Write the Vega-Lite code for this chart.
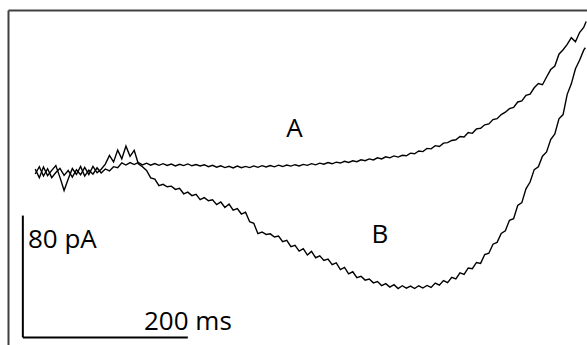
{
  "$schema": "https://vega.github.io/schema/vega-lite/v6.json",
  "width": 579,
  "height": 335,
  "autosize": {"type": "none"},
  "padding": {"left": 8, "top": 10, "right": 0, "bottom": 0},
  "background": "white",
  "config": {"view": {"stroke": null}, "axis": {"grid": false}},
  "datasets": {
    "traces": [
      {"s":"A","t":15,"i":110.5},{"s":"A","t":20,"i":104.8},{"s":"A","t":25,"i":111.9},{"s":"A","t":30,"i":106.2},{"s":"A","t":35,"i":109.7},{"s":"A","t":40,"i":112.8},{"s":"A","t":45,"i":105.1},{"s":"A","t":50,"i":96.5},{"s":"A","t":55,"i":104.0},{"s":"A","t":60,"i":110.9},{"s":"A","t":65,"i":107.0},{"s":"A","t":70,"i":112.3},{"s":"A","t":75,"i":105.9},{"s":"A","t":80,"i":109.8},{"s":"A","t":85,"i":107.2},{"s":"A","t":90,"i":111.4},{"s":"A","t":95,"i":108.0},{"s":"A","t":100,"i":110.6},{"s":"A","t":105,"i":109.3},{"s":"A","t":110,"i":112.1},{"s":"A","t":115,"i":111.5},{"s":"A","t":120,"i":114.6},{"s":"A","t":125,"i":113.2},{"s":"A","t":130,"i":114.8},{"s":"A","t":135,"i":113.5},{"s":"A","t":140,"i":114.9},{"s":"A","t":145,"i":113.3},{"s":"A","t":150,"i":114.4},{"s":"A","t":155,"i":113.1},{"s":"A","t":160,"i":114.2},{"s":"A","t":165,"i":113.0},{"s":"A","t":170,"i":114.1},{"s":"A","t":175,"i":112.9},{"s":"A","t":180,"i":113.8},{"s":"A","t":185,"i":112.6},{"s":"A","t":190,"i":113.7},{"s":"A","t":195,"i":112.8},{"s":"A","t":200,"i":113.9},{"s":"A","t":205,"i":112.7},{"s":"A","t":210,"i":113.5},{"s":"A","t":215,"i":112.6},{"s":"A","t":220,"i":113.4},{"s":"A","t":225,"i":112.1},{"s":"A","t":230,"i":113.0},{"s":"A","t":235,"i":111.8},{"s":"A","t":240,"i":112.7},{"s":"A","t":245,"i":111.5},{"s":"A","t":250,"i":112.4},{"s":"A","t":255,"i":111.3},{"s":"A","t":260,"i":112.5},{"s":"A","t":265,"i":111.4},{"s":"A","t":270,"i":112.3},{"s":"A","t":275,"i":111.5},{"s":"A","t":280,"i":112.6},{"s":"A","t":285,"i":111.7},{"s":"A","t":290,"i":112.8},{"s":"A","t":295,"i":111.9},{"s":"A","t":300,"i":112.9},{"s":"A","t":305,"i":112.0},{"s":"A","t":310,"i":113.1},{"s":"A","t":315,"i":112.2},{"s":"A","t":320,"i":113.2},{"s":"A","t":325,"i":112.5},{"s":"A","t":330,"i":113.4},{"s":"A","t":335,"i":112.6},{"s":"A","t":340,"i":113.6},{"s":"A","t":345,"i":113.0},{"s":"A","t":350,"i":114.1},{"s":"A","t":355,"i":113.3},{"s":"A","t":360,"i":114.4},{"s":"A","t":365,"i":113.7},{"s":"A","t":370,"i":114.8},{"s":"A","t":375,"i":114.0},{"s":"A","t":380,"i":115.1},{"s":"A","t":385,"i":114.5},{"s":"A","t":390,"i":115.6},{"s":"A","t":395,"i":114.9},{"s":"A","t":400,"i":116.0},{"s":"A","t":405,"i":115.4},{"s":"A","t":410,"i":116.6},{"s":"A","t":415,"i":116.0},{"s":"A","t":420,"i":117.2},{"s":"A","t":425,"i":116.5},{"s":"A","t":430,"i":117.9},{"s":"A","t":435,"i":117.2},{"s":"A","t":440,"i":118.6},{"s":"A","t":445,"i":117.9},{"s":"A","t":450,"i":119.2},{"s":"A","t":455,"i":118.4},{"s":"A","t":460,"i":119.6},{"s":"A","t":465,"i":119.3},{"s":"A","t":470,"i":121.0},{"s":"A","t":475,"i":120.6},{"s":"A","t":480,"i":122.4},{"s":"A","t":485,"i":122.0},{"s":"A","t":490,"i":124.1},{"s":"A","t":495,"i":123.8},{"s":"A","t":500,"i":125.9},{"s":"A","t":505,"i":125.4},{"s":"A","t":510,"i":127.6},{"s":"A","t":515,"i":127.9},{"s":"A","t":520,"i":129.3},{"s":"A","t":525,"i":129.8},{"s":"A","t":530,"i":131.9},{"s":"A","t":535,"i":131.6},{"s":"A","t":540,"i":134.5},{"s":"A","t":545,"i":134.0},{"s":"A","t":550,"i":136.9},{"s":"A","t":555,"i":137.3},{"s":"A","t":560,"i":139.6},{"s":"A","t":565,"i":140.2},{"s":"A","t":570,"i":143.0},{"s":"A","t":575,"i":143.6},{"s":"A","t":580,"i":146.3},{"s":"A","t":585,"i":147.9},{"s":"A","t":590,"i":150.2},{"s":"A","t":595,"i":151.0},{"s":"A","t":600,"i":154.6},{"s":"A","t":605,"i":155.3},{"s":"A","t":610,"i":159.0},{"s":"A","t":615,"i":159.8},{"s":"A","t":620,"i":163.9},{"s":"A","t":625,"i":166.7},{"s":"A","t":630,"i":165.9},{"s":"A","t":635,"i":171.0},{"s":"A","t":640,"i":175.9},{"s":"A","t":645,"i":178.2},{"s":"A","t":650,"i":186.0},{"s":"A","t":655,"i":188.9},{"s":"A","t":660,"i":192.4},{"s":"A","t":665,"i":196.8},{"s":"A","t":670,"i":194.1},{"s":"A","t":675,"i":200.2},{"s":"A","t":680,"i":203.5},{"s":"A","t":683,"i":207.5},
      {"s":"B","t":15,"i":107.3},{"s":"B","t":20,"i":112.1},{"s":"B","t":25,"i":106.0},{"s":"B","t":30,"i":110.8},{"s":"B","t":35,"i":104.9},{"s":"B","t":40,"i":108.3},{"s":"B","t":45,"i":111.0},{"s":"B","t":50,"i":106.4},{"s":"B","t":55,"i":109.6},{"s":"B","t":60,"i":105.2},{"s":"B","t":65,"i":110.1},{"s":"B","t":70,"i":106.8},{"s":"B","t":75,"i":111.6},{"s":"B","t":80,"i":107.0},{"s":"B","t":85,"i":112.3},{"s":"B","t":90,"i":108.1},{"s":"B","t":95,"i":110.4},{"s":"B","t":100,"i":113.8},{"s":"B","t":105,"i":119.5},{"s":"B","t":110,"i":115.2},{"s":"B","t":115,"i":123.0},{"s":"B","t":120,"i":117.3},{"s":"B","t":125,"i":125.6},{"s":"B","t":130,"i":118.9},{"s":"B","t":135,"i":122.8},{"s":"B","t":140,"i":114.0},{"s":"B","t":145,"i":112.1},{"s":"B","t":150,"i":109.6},{"s":"B","t":155,"i":104.8},{"s":"B","t":160,"i":104.0},{"s":"B","t":165,"i":99.6},{"s":"B","t":170,"i":100.5},{"s":"B","t":175,"i":98.9},{"s":"B","t":180,"i":99.3},{"s":"B","t":185,"i":97.2},{"s":"B","t":190,"i":97.9},{"s":"B","t":195,"i":94.3},{"s":"B","t":200,"i":95.4},{"s":"B","t":205,"i":93.1},{"s":"B","t":210,"i":93.9},{"s":"B","t":215,"i":90.5},{"s":"B","t":220,"i":91.8},{"s":"B","t":225,"i":89.7},{"s":"B","t":230,"i":90.4},{"s":"B","t":235,"i":87.2},{"s":"B","t":240,"i":88.9},{"s":"B","t":245,"i":85.3},{"s":"B","t":250,"i":87.6},{"s":"B","t":255,"i":83.5},{"s":"B","t":260,"i":84.6},{"s":"B","t":265,"i":81.0},{"s":"B","t":270,"i":82.2},{"s":"B","t":275,"i":76.0},{"s":"B","t":280,"i":74.9},{"s":"B","t":285,"i":68.1},{"s":"B","t":290,"i":69.2},{"s":"B","t":295,"i":67.6},{"s":"B","t":300,"i":68.0},{"s":"B","t":305,"i":65.9},{"s":"B","t":310,"i":66.6},{"s":"B","t":315,"i":62.9},{"s":"B","t":320,"i":63.7},{"s":"B","t":325,"i":59.6},{"s":"B","t":330,"i":60.5},{"s":"B","t":335,"i":56.7},{"s":"B","t":340,"i":58.3},{"s":"B","t":345,"i":54.1},{"s":"B","t":350,"i":56.5},{"s":"B","t":355,"i":52.3},{"s":"B","t":360,"i":53.6},{"s":"B","t":365,"i":50.5},{"s":"B","t":370,"i":51.4},{"s":"B","t":375,"i":47.7},{"s":"B","t":380,"i":48.9},{"s":"B","t":385,"i":44.5},{"s":"B","t":390,"i":46.0},{"s":"B","t":395,"i":41.7},{"s":"B","t":400,"i":43.1},{"s":"B","t":405,"i":39.2},{"s":"B","t":410,"i":40.1},{"s":"B","t":415,"i":37.6},{"s":"B","t":420,"i":38.3},{"s":"B","t":425,"i":35.8},{"s":"B","t":430,"i":36.7},{"s":"B","t":435,"i":34.0},{"s":"B","t":440,"i":35.3},{"s":"B","t":445,"i":33.0},{"s":"B","t":450,"i":34.6},{"s":"B","t":455,"i":32.1},{"s":"B","t":460,"i":33.9},{"s":"B","t":465,"i":32.3},{"s":"B","t":470,"i":33.7},{"s":"B","t":475,"i":32.1},{"s":"B","t":480,"i":33.9},{"s":"B","t":485,"i":32.4},{"s":"B","t":490,"i":34.1},{"s":"B","t":495,"i":32.8},{"s":"B","t":500,"i":35.7},{"s":"B","t":505,"i":34.3},{"s":"B","t":510,"i":37.3},{"s":"B","t":515,"i":35.9},{"s":"B","t":520,"i":39.5},{"s":"B","t":525,"i":38.4},{"s":"B","t":530,"i":42.4},{"s":"B","t":535,"i":41.3},{"s":"B","t":540,"i":45.6},{"s":"B","t":545,"i":45.1},{"s":"B","t":550,"i":49.2},{"s":"B","t":555,"i":48.6},{"s":"B","t":560,"i":54.4},{"s":"B","t":565,"i":55.3},{"s":"B","t":570,"i":61.2},{"s":"B","t":575,"i":62.4},{"s":"B","t":580,"i":68.3},{"s":"B","t":585,"i":70.0},{"s":"B","t":590,"i":76.9},{"s":"B","t":595,"i":78.0},{"s":"B","t":600,"i":86.6},{"s":"B","t":605,"i":88.5},{"s":"B","t":610,"i":97.6},{"s":"B","t":615,"i":102.0},{"s":"B","t":620,"i":110.2},{"s":"B","t":625,"i":112.0},{"s":"B","t":630,"i":119.0},{"s":"B","t":635,"i":121.8},{"s":"B","t":640,"i":129.9},{"s":"B","t":645,"i":133.6},{"s":"B","t":650,"i":143.5},{"s":"B","t":655,"i":146.3},{"s":"B","t":660,"i":159.6},{"s":"B","t":665,"i":166.5},{"s":"B","t":670,"i":176.4},{"s":"B","t":675,"i":182.0},{"s":"B","t":680,"i":188.6},{"s":"B","t":682,"i":190.2}
    ],
    "curveLabels": [
      {"label":"A","t":329.3,"i":131.6},
      {"label":"B","t":433.0,"i":62.0}
    ],
    "barLabels": [
      {"label":"80 pA","t":6.2,"i":58.7},
      {"label":"200 ms","t":146.9,"i":4.9}
    ]
  },
  "encoding": {
    "x": {"type": "quantitative", "scale": {"domain": [-18, 684], "nice": false, "zero": false},
          "axis": {"orient": "top", "title": null, "labels": false, "ticks": false, "domain": true, "domainColor": "#404040", "domainWidth": 2, "grid": false}},
    "y": {"type": "quantitative", "scale": {"domain": [-5, 215], "nice": false, "zero": false},
          "axis": {"orient": "left", "title": null, "labels": false, "ticks": false, "domain": true, "domainColor": "#404040", "domainWidth": 2, "grid": false}}
  },
  "layer": [
    {
      "data": {"name": "traces"},
      "mark": {"type": "line", "color": "#000000", "strokeWidth": 1.4, "interpolate": "linear"},
      "encoding": {
        "x": {"field": "t", "type": "quantitative"},
        "y": {"field": "i", "type": "quantitative"},
        "detail": {"field": "s", "type": "nominal"},
        "order": {"field": "t", "type": "quantitative"}
      }
    },
    {
      "data": {"values": [{"k": 1}]},
      "mark": {"type": "rule", "color": "#000000", "strokeWidth": 2},
      "encoding": {"x": {"datum": 0}, "y": {"datum": 0}, "y2": {"datum": 80}}
    },
    {
      "data": {"values": [{"k": 1}]},
      "mark": {"type": "rule", "color": "#000000", "strokeWidth": 2},
      "encoding": {"x": {"datum": 0}, "x2": {"datum": 200}, "y": {"datum": 0}}
    },
    {
      "data": {"name": "curveLabels"},
      "mark": {"type": "text", "font": "Open Sans", "fontSize": 26, "baseline": "alphabetic", "align": "center", "color": "#000000"},
      "encoding": {
        "x": {"field": "t", "type": "quantitative"},
        "y": {"field": "i", "type": "quantitative"},
        "text": {"field": "label"}
      }
    },
    {
      "data": {"name": "barLabels"},
      "mark": {"type": "text", "font": "Open Sans", "fontSize": 26, "baseline": "alphabetic", "align": "left", "color": "#000000"},
      "encoding": {
        "x": {"field": "t", "type": "quantitative"},
        "y": {"field": "i", "type": "quantitative"},
        "text": {"field": "label"}
      }
    }
  ]
}
